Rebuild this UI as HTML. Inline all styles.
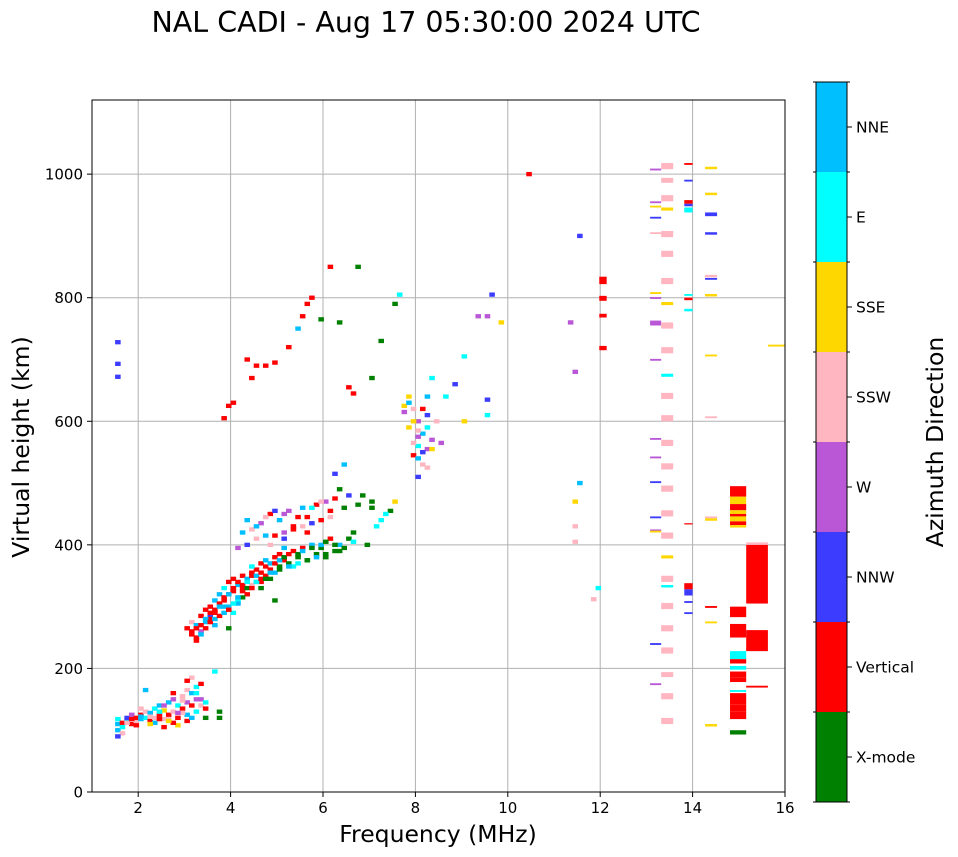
<!DOCTYPE html>
<html><head><meta charset="utf-8"><style>
body{margin:0;background:#fff;font-family:"DejaVu Sans","Liberation Sans",sans-serif}
svg{display:block}
</style></head><body>
<svg id="chart" width="958" height="857" xmlns="http://www.w3.org/2000/svg" font-family="DejaVu Sans, Liberation Sans, sans-serif">
<text x="426" y="32" font-size="28.5" text-anchor="middle">NAL CADI - Aug 17 05:30:00 2024 UTC</text>
<g id="grid"></g>
<g id="marks"></g>
<rect x="92" y="100" width="693" height="692" fill="none" stroke="#000"/>
<g id="axes"></g>
<text x="438" y="842" font-size="23.5" text-anchor="middle">Frequency (MHz)</text>
<text transform="translate(29,447) rotate(-90)" font-size="23.5" text-anchor="middle">Virtual height (km)</text>
<g id="cbar"></g>
<text transform="translate(943,442) rotate(-90)" font-size="23.5" text-anchor="middle">Azimuth Direction</text>
</svg>
<script>
const dirNames=["X-mode","Vertical","NNW","W","SSW","SSE","E","NNE"];
const dirColors=["#008000","#ff0000","#3c3cff","#b957d6","#ffb6c1","#ffd700","#00ffff","#00bfff"];
const xTicks=[2,4,6,8,10,12,14,16];
const yTicks=[0,200,400,600,800,1000];
// scatter echoes: frequency (MHz), height (km), direction index
const freq=[1.5,1.5,1.5,1.6,1.6,1.7,1.7,1.8,1.8,1.9,1.9,2.0,2.0,2.1,2.1,2.2,2.2,2.3,2.3,2.4,2.4,2.5,2.5,2.6,2.6,2.7,2.7,2.8,2.8,2.9,2.9,3.0,3.0,3.0,3.1,3.1,3.2,3.2,3.2,3.3,3.3,3.4,3.4,3.7,3.7,2.8,2.5,3.6,3.1,2.1,1.5,
1.6,1.7,1.9,2.0,2.2,2.3,2.4,2.6,2.7,2.9,3.0,3.1,3.3,2.5,2.7,2.9,3.2,2.6,2.8,3.0,2.2,2.4,1.8,2.0,3.4,
3.0,3.1,3.1,3.2,3.2,3.3,3.3,3.4,3.4,3.5,3.5,3.6,3.6,3.7,3.7,3.8,3.8,3.9,3.9,4.0,4.0,4.1,4.1,4.2,4.2,4.3,4.3,4.4,4.4,4.5,4.5,4.6,4.6,4.7,4.7,4.8,4.8,4.9,4.9,5.0,5.0,5.1,5.1,5.2,5.3,5.4,5.5,5.6,5.7,5.8,5.9,6.0,6.1,6.2,6.3,6.4,6.5,6.6,4.9,5.3,4.0,3.8,4.2,3.9,3.5,3.6,3.9,4.1,4.4,4.6,
3.1,3.2,3.3,3.4,3.5,3.6,3.7,3.8,3.9,4.0,4.1,4.2,4.3,4.4,4.5,4.6,4.7,4.8,4.9,5.0,5.1,5.2,5.4,5.5,5.7,5.9,6.0,6.2,
3.2,3.3,3.4,3.5,3.6,3.7,3.8,3.9,4.0,4.1,4.2,4.3,4.4,4.5,4.6,4.7,4.8,5.0,5.2,5.4,5.6,5.8,6.0,6.3,
4.1,4.3,4.5,4.7,4.9,5.1,5.3,5.5,5.7,5.9,6.1,6.4,
4.2,4.3,4.4,4.6,4.8,5.0,5.2,5.3,5.5,5.6,5.8,6.0,6.1,6.3,6.4,6.2,6.8,7.0,7.2,7.4,7.5,4.8,5.1,5.6,6.6,6.9,7.1,
4.5,4.7,4.9,5.1,5.4,5.7,5.9,6.2,6.5,6.7,7.0,7.3,
7.8,7.9,8.0,8.1,8.0,7.9,8.1,8.2,8.3,8.2,7.8,8.0,8.4,8.5,8.6,8.8,8.3,9.0,9.0,9.5,9.5,7.7,8.0,8.2,
7.8,7.9,8.0,8.1,8.2,7.9,8.0,8.1,8.3,7.7,8.2,
1.5,1.5,1.5,3.8,3.9,4.0,4.3,4.4,4.5,4.7,4.9,5.2,5.4,5.5,5.6,5.7,5.9,6.1,6.3,6.7,6.5,6.6,7.2,7.5,7.6,7.0,9.6,10.4,11.5,11.3,11.4,11.5,11.4,11.4,11.4,11.9,11.8,9.5,9.8,9.3];
const height=[100,110,118,95,112,115,120,110,125,115,120,118,125,120,130,115,128,120,135,125,140,118,132,125,145,130,150,120,140,135,155,125,145,165,140,160,130,150,170,140,175,120,135,130,120,108,105,195,185,165,90,
105,112,108,122,122,112,118,118,112,128,115,120,150,140,160,148,160,115,128,180,110,130,118,135,145,
265,255,275,245,270,285,260,295,275,300,285,310,290,305,320,315,330,300,340,325,345,335,310,350,330,345,320,355,335,360,340,330,370,350,375,360,345,380,355,385,365,375,395,370,390,380,395,375,400,385,395,380,410,390,400,395,410,405,310,365,290,300,315,265,280,270,320,305,365,340,
260,265,270,280,290,295,300,310,320,330,340,335,340,350,350,355,365,370,370,375,380,385,385,390,395,400,405,400,
250,255,265,275,280,285,290,295,305,315,325,330,330,340,345,345,355,360,365,370,375,380,385,390,
395,400,410,415,415,420,425,430,435,440,445,460,
420,440,425,435,450,440,455,430,460,445,465,470,455,490,530,515,480,470,440,455,470,400,410,420,420,400,430,
430,445,455,450,445,460,470,475,480,465,460,450,
640,620,600,580,560,545,530,610,570,640,590,510,600,565,640,660,670,600,705,635,610,625,585,555,
630,600,575,550,590,565,540,620,555,615,525];
const dir=[7,7,6,4,1,7,2,1,3,4,1,7,1,6,4,1,7,4,6,1,7,4,5,1,7,4,3,1,6,1,4,7,3,4,1,7,6,3,6,4,1,0,1,0,0,5,1,6,4,7,2,
6,4,1,7,4,7,1,4,1,4,1,7,3,3,1,4,6,5,3,1,5,6,1,4,6,
1,1,4,1,7,1,3,1,7,1,2,7,1,1,7,1,6,7,1,1,1,7,6,1,1,7,1,1,4,1,7,0,1,1,7,1,0,1,7,1,0,1,7,0,1,0,1,0,7,0,0,0,1,0,7,0,0,6,0,6,6,7,0,0,1,7,1,7,6,1,
1,1,1,7,1,1,7,1,7,1,1,1,6,1,7,1,1,7,1,7,0,1,0,7,0,7,0,0,
1,7,1,1,7,1,7,1,6,7,1,0,1,6,1,0,7,0,7,6,0,7,0,0,
3,2,4,7,1,3,1,4,2,1,4,0,
7,7,4,3,1,7,3,1,7,1,1,3,1,0,7,2,0,0,6,0,5,4,2,1,0,0,6,
7,4,2,3,1,6,4,1,2,0,0,6,
5,4,3,7,6,1,4,2,3,7,5,2,4,3,6,2,6,5,6,2,6,5,4,3,
7,5,3,2,6,4,7,1,5,3,4,
2,2,2,1,1,1,1,1,1,1,1,1,7,1,1,1,0,1,0,0,1,1,0,0,6,0,2,1,2,3,3,7,5,4,4,6,4,3,5,3];
height.push(728,693,672,605,625,630,700,670,690,690,695,720,750,770,790,800,765,850,760,850,655,645,730,790,805,670,805,1000,900,760,680,500,470,430,405,330,312,770,760,770);
// block echoes (high-frequency columns): freq start/end (MHz), height low/high (km), direction
const blkF0=[13.08,13.08,13.08,13.08,13.08,13.08,13.08,13.08,13.08,13.08,13.08,13.08,13.08,13.08,13.08,13.08,13.08,
13.32,13.32,13.32,13.32,13.32,13.32,13.32,13.32,13.32,13.32,13.32,13.32,13.32,13.32,13.32,13.32,13.32,13.32,13.32,13.32,13.32,13.32,13.32,13.32,13.32,13.32,13.32,
13.82,13.82,13.82,13.82,13.82,13.82,13.82,13.82,13.82,13.82,13.82,13.82,13.82,
14.27,14.27,14.27,14.27,14.27,14.27,14.27,14.27,14.27,14.27,14.27,14.27,14.27,14.27,
14.81,14.81,14.81,14.81,14.81,14.81,14.81,14.81,14.81,14.81,14.81,14.81,14.81,14.81,14.81,14.81,14.81,14.81,14.81,14.81,
15.16,15.16,15.16,15.16,15.63,11.98,11.98,11.98,11.98];
const blkF1=[13.32,13.32,13.32,13.32,13.32,13.32,13.32,13.32,13.32,13.32,13.32,13.32,13.32,13.32,13.32,13.32,13.32,
13.58,13.58,13.58,13.58,13.58,13.58,13.58,13.58,13.58,13.58,13.58,13.58,13.58,13.58,13.58,13.58,13.58,13.58,13.58,13.58,13.58,13.58,13.58,13.58,13.58,13.58,13.58,
14.0,14.0,14.0,14.0,14.0,14.0,14.0,14.0,14.0,14.0,14.0,14.0,14.0,
14.53,14.53,14.53,14.53,14.53,14.53,14.53,14.53,14.53,14.53,14.53,14.53,14.53,14.53,
15.16,15.16,15.16,15.16,15.16,15.16,15.16,15.16,15.16,15.16,15.16,15.16,15.16,15.16,15.16,15.16,15.16,15.16,15.16,15.16,
15.63,15.63,15.63,15.63,16.0,12.14,12.14,12.14,12.14];
const blkH0=[1006,953,946,928,903,806,798,755,698,570,540,500,443,422,420,238,173,
1008,986,956,941,898,866,822,788,750,710,672,636,600,560,522,486,446,410,378,340,331,296,260,224,186,150,110,
1015,988,952,948,938,803,796,778,433,328,318,306,288,
1008,966,932,902,833,829,802,705,605,443,439,298,273,106,
478,466,456,450,446,438,432,428,283,250,215,208,198,185,178,162,142,130,118,93,
305,400,228,169,721,822,795,768,715];
const blkH1=[1009,956,949,931,906,809,801,763,701,573,543,503,446,425,423,241,176,
1018,994,966,946,908,876,832,793,760,720,677,646,610,570,532,496,456,420,383,350,335,306,270,234,194,160,120,
1018,991,958,952,946,806,800,782,435,338,328,309,291,
1012,970,938,906,837,832,806,708,608,446,443,301,276,110,
495,478,466,456,450,446,438,432,300,272,228,215,204,195,185,165,160,142,130,100,
400,404,262,172,724,834,803,774,722];
const blkDir=[3,3,5,2,4,5,3,3,3,3,3,2,2,3,5,2,3,
4,4,4,5,4,4,4,5,4,4,6,4,4,4,4,4,4,4,5,4,6,4,4,4,4,4,4,
1,2,1,2,6,6,1,6,1,1,2,2,2,
5,5,2,2,4,2,5,5,4,4,5,1,5,5,
1,5,1,5,1,5,1,5,1,1,6,1,6,1,1,6,1,1,1,0,
1,4,1,1,5,1,1,1,1];

const NS="http://www.w3.org/2000/svg";
const X0=92,X1=785,Y0=792,Y1=100;
const xs=f=>X0+(f-1)/15*(X1-X0);
const ys=h=>Y0-h/1120*(Y0-Y1);
function mk(tag,attrs,parent){const e=document.createElementNS(NS,tag);for(const k in attrs)e.setAttribute(k,attrs[k]);parent.appendChild(e);return e;}
const grid=document.getElementById('grid'),axes=document.getElementById('axes'),marks=document.getElementById('marks'),cbar=document.getElementById('cbar');
xTicks.forEach(t=>{const x=xs(t);
 if(t<16){const l=mk('line',{x1:x,x2:x,y1:Y1,y2:Y0,stroke:'#b0b0b0','stroke-width':1},grid);
 
 }
 mk('line',{x1:x,x2:x,y1:Y0,y2:Y0+5,stroke:'#000'},axes);
 const tx=mk('text',{x:x,y:Y0+21,'font-size':15,'text-anchor':'middle'},axes);tx.textContent=t;
 
 });
yTicks.forEach(t=>{const y=ys(t);
 if(t>0){const l=mk('line',{x1:X0,x2:X1,y1:y,y2:y,stroke:'#b0b0b0','stroke-width':1},grid);
 
 }
 mk('line',{x1:X0-5,x2:X0,y1:y,y2:y,stroke:'#000'},axes);
 const tx=mk('text',{x:X0-9,y:y+5.5,'font-size':15,'text-anchor':'end'},axes);tx.textContent=t;
 
 });
const DF=0.12,DH=7;
for(let i=0;i<freq.length;i++){
 const x=xs(freq[i]),y=ys(height[i]+DH/2);
 const r=mk('rect',{x:x,y:y,width:xs(freq[i]+DF)-x,height:ys(height[i]-DH/2)-y,fill:dirColors[dir[i]]},marks);
 
 
}
for(let i=0;i<blkF0.length;i++){
 const x=xs(blkF0[i]),y=ys(blkH1[i]);
 const r=mk('rect',{x:x,y:y,width:xs(blkF1[i])-x,height:ys(blkH0[i])-y,fill:dirColors[blkDir[i]]},marks);
 
 
}
// colorbar
const CX=816,CW=31,CT=82,CB=802,seg=(CB-CT)/8;
for(let i=0;i<8;i++){
 const y=CB-(i+1)*seg;
 const r=mk('rect',{x:CX,y:y,width:CW,height:seg,fill:dirColors[i]},cbar);
 
 
 mk('line',{x1:CX+CW,x2:CX+CW+5,y1:y+seg/2,y2:y+seg/2,stroke:'#000'},cbar);
 const tx=mk('text',{x:CX+CW+9,y:y+seg/2+5.5,'font-size':15.5},cbar);tx.textContent=dirNames[i];
 
 
}
for(let i=0;i<=8;i++){mk('line',{x1:CX-3,x2:CX,y1:CB-i*seg,y2:CB-i*seg,stroke:'#000'},cbar);mk('line',{x1:CX+CW,x2:CX+CW+3,y1:CB-i*seg,y2:CB-i*seg,stroke:'#000'},cbar);}
mk('rect',{x:CX,y:CT,width:CW,height:CB-CT,fill:'none',stroke:'#000'},cbar);
</script>
</body></html>
